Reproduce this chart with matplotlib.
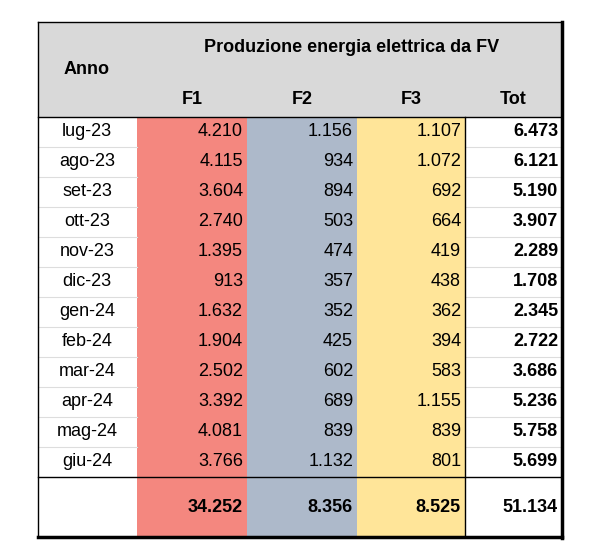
import matplotlib.pyplot as plt
from matplotlib.patches import Rectangle

plt.rcParams['font.family'] = ['Liberation Sans', 'DejaVu Sans']

mesi = ["lug-23", "ago-23", "set-23", "ott-23", "nov-23", "dic-23",
        "gen-24", "feb-24", "mar-24", "apr-24", "mag-24", "giu-24"]
f1 = ["4.210", "4.115", "3.604", "2.740", "1.395", "913",
      "1.632", "1.904", "2.502", "3.392", "4.081", "3.766"]
f2 = ["1.156", "934", "894", "503", "474", "357",
      "352", "425", "602", "689", "839", "1.132"]
f3 = ["1.107", "1.072", "692", "664", "419", "438",
      "362", "394", "583", "1.155", "839", "801"]
tot = ["6.473", "6.121", "5.190", "3.907", "2.289", "1.708",
       "2.345", "2.722", "3.686", "5.236", "5.758", "5.699"]
totali = ["34.252", "8.356", "8.525", "51.134"]
colonne = ["F1", "F2", "F3", "Tot"]
titolo = "Produzione energia elettrica da FV"

fig = plt.figure(figsize=(5.99, 5.58), dpi=100)
ax = fig.add_axes([0, 0, 1, 1])
ax.set_xlim(0, 599)
ax.set_ylim(558, 0)
ax.axis('off')

L, R, T, HB = 38, 562, 22, 117
RH = 30
xs = [38, 137, 247, 357, 465, 562]
bottom_rows = HB + RH * len(mesi)
B = 537
fill_cols = ['#F4877F', '#ADB9CA', '#FFE599']

ax.add_patch(Rectangle((L, T), R - L, HB - T, color='#D9D9D9', lw=0))
for i, c in enumerate(fill_cols):
    ax.add_patch(Rectangle((xs[i + 1], HB), xs[i + 2] - xs[i + 1], B - HB, color=c, lw=0))

fs = 13
ax.text(87, 70, "Anno", ha='center', va='center', fontsize=fs, fontweight='bold')
ax.text(352, 47, titolo, ha='center', va='center', fontsize=fs, fontweight='bold')
for i, c in enumerate(colonne):
    ax.text((xs[i + 1] + xs[i + 2]) / 2, 99, c, ha='center', va='center', fontsize=fs, fontweight='bold')

for r, m in enumerate(mesi):
    y = HB + RH * r + RH / 2
    ax.text(87, y, m, ha='center', va='center', fontsize=fs)
    for i, vals in enumerate([f1, f2, f3, tot]):
        ax.text(xs[i + 2] - 4, y, vals[r], ha='right', va='center', fontsize=fs,
                fontweight='bold' if i == 3 else 'normal')
    if r > 0:
        for a, b in [(xs[0], xs[1]), (xs[4], xs[5])]:
            ax.plot([a, b], [HB + RH * r] * 2, color='#DDDDDD', lw=0.8)

ty = (bottom_rows + B) / 2
for i, v in enumerate(totali):
    ax.text(xs[i + 2] - 4, ty, v, ha='right', va='center', fontsize=fs,
            fontweight='bold')

k = 'black'
ax.plot([L, R], [T, T], color=k, lw=1)
ax.plot([L, L], [T, B], color=k, lw=1)
ax.plot([R, R], [T, B + 1], color=k, lw=2.5)
ax.plot([L, R], [B, B], color=k, lw=2.5)
ax.plot([L, R], [HB, HB], color=k, lw=1)
ax.plot([L, R], [bottom_rows, bottom_rows], color=k, lw=1)
ax.plot([xs[4], xs[4]], [HB, B], color=k, lw=1)

fig.savefig('out.png', dpi=100, facecolor='white')
